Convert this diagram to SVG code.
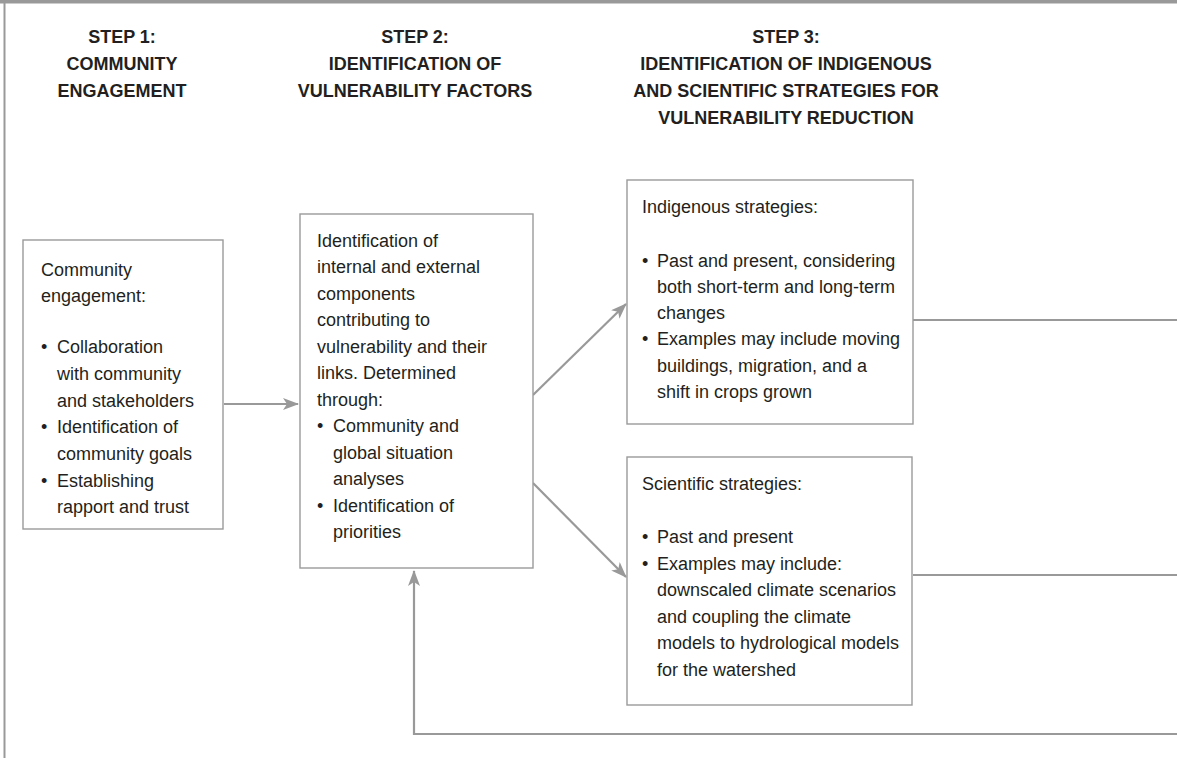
<svg xmlns="http://www.w3.org/2000/svg" width="1177" height="758" viewBox="0 0 1177 758">
<style>
.bg{fill:#fff}
.frame{stroke:#999;fill:none}
.box{fill:#fff;stroke:#9a9a9a;stroke-width:1.4}
.hd{font-family:"Liberation Sans",Arial,sans-serif;font-weight:bold;font-size:18px;fill:#231f20;text-anchor:middle}
.tx{font-family:"Liberation Sans",Arial,sans-serif;font-size:18px;fill:#231f20}
.ln{stroke:#999;stroke-width:2.2;fill:none}
</style>
<defs>
<marker id="ah" markerWidth="16" markerHeight="12" refX="15" refY="6" orient="auto" markerUnits="userSpaceOnUse">
<path d="M0,0 L16,6 L0,12 L4,6 Z" fill="#999"/>
</marker>
</defs>
<rect class="bg" x="0" y="0" width="1177" height="758"/>
<g id="frame">
<rect x="0" y="0" width="1177" height="3.5" fill="#999"/>
<line x1="4.5" y1="0" x2="4.5" y2="758" class="frame" stroke-width="2"/>
</g>
<g id="headers">
<text class="hd" x="122" y="43">STEP 1:</text>
<text class="hd" x="122" y="70">COMMUNITY</text>
<text class="hd" x="122" y="97">ENGAGEMENT</text>
<text class="hd" x="415" y="43">STEP 2:</text>
<text class="hd" x="415" y="70">IDENTIFICATION OF</text>
<text class="hd" x="415" y="97">VULNERABILITY FACTORS</text>
<text class="hd" x="786" y="43">STEP 3:</text>
<text class="hd" x="786" y="70">IDENTIFICATION OF INDIGENOUS</text>
<text class="hd" x="786" y="97">AND SCIENTIFIC STRATEGIES FOR</text>
<text class="hd" x="786" y="124">VULNERABILITY REDUCTION</text>
</g>
<g id="connectors">
<line class="ln" x1="224" y1="404" x2="298" y2="404" marker-end="url(#ah)"/>
<line class="ln" x1="533" y1="395" x2="626" y2="304" marker-end="url(#ah)"/>
<line class="ln" x1="533" y1="483" x2="626" y2="577" marker-end="url(#ah)"/>
<line class="ln" x1="913" y1="320" x2="1177" y2="320"/>
<line class="ln" x1="913" y1="575" x2="1177" y2="575"/>
<polyline class="ln" points="1177,734 414,734 414,571" marker-end="url(#ah)"/>
</g>
<g id="step1-box">
<rect class="box" x="23" y="240" width="200" height="289"/>
<text class="tx"><tspan x="41" y="276">Community</tspan><tspan x="41" y="302">engagement:</tspan></text>
<text class="tx"><tspan x="41" y="353">•</tspan><tspan x="57" y="353">Collaboration</tspan><tspan x="57" y="380">with community</tspan><tspan x="57" y="407">and stakeholders</tspan><tspan x="41" y="433">•</tspan><tspan x="57" y="433">Identification of</tspan><tspan x="57" y="460">community goals</tspan><tspan x="41" y="487">•</tspan><tspan x="57" y="487">Establishing</tspan><tspan x="57" y="513">rapport and trust</tspan></text>
</g>
<g id="step2-box">
<rect class="box" x="300" y="214" width="233" height="354"/>
<text class="tx"><tspan x="317" y="247">Identification of</tspan><tspan x="317" y="273">internal and external</tspan><tspan x="317" y="300">components</tspan><tspan x="317" y="326">contributing to</tspan><tspan x="317" y="353">vulnerability and their</tspan><tspan x="317" y="379">links. Determined</tspan><tspan x="317" y="406">through:</tspan><tspan x="317" y="432">•</tspan><tspan x="333" y="432">Community and</tspan><tspan x="333" y="459">global situation</tspan><tspan x="333" y="485">analyses</tspan><tspan x="317" y="512">•</tspan><tspan x="333" y="512">Identification of</tspan><tspan x="333" y="538">priorities</tspan></text>
</g>
<g id="indigenous-box">
<rect class="box" x="627" y="180" width="286" height="244"/>
<text class="tx"><tspan x="642" y="213">Indigenous strategies:</tspan><tspan x="642" y="267">•</tspan><tspan x="657" y="267">Past and present, considering</tspan><tspan x="657" y="293">both short-term and long-term</tspan><tspan x="657" y="319">changes</tspan><tspan x="642" y="345">•</tspan><tspan x="657" y="345">Examples may include moving</tspan><tspan x="657" y="372">buildings, migration, and a</tspan><tspan x="657" y="398">shift in crops grown</tspan></text>
</g>
<g id="scientific-box">
<rect class="box" x="627" y="457" width="285" height="248"/>
<text class="tx"><tspan x="642" y="490">Scientific strategies:</tspan><tspan x="642" y="543">•</tspan><tspan x="657" y="543">Past and present</tspan><tspan x="642" y="570">•</tspan><tspan x="657" y="570">Examples may include:</tspan><tspan x="657" y="596">downscaled climate scenarios</tspan><tspan x="657" y="623">and coupling the climate</tspan><tspan x="657" y="649">models to hydrological models</tspan><tspan x="657" y="676">for the watershed</tspan></text>
</g>
</svg>
